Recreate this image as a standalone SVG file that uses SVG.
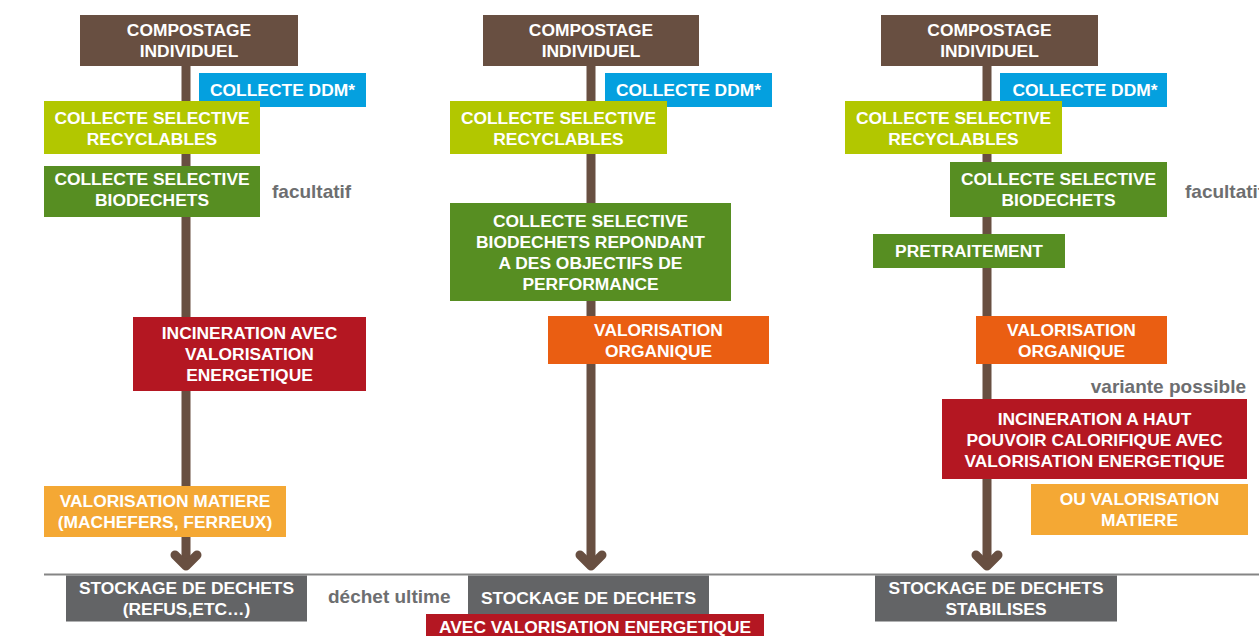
<svg xmlns="http://www.w3.org/2000/svg" width="1259" height="636" viewBox="0 0 1259 636">
<style>
.t{font-family:"Liberation Sans",Arial,sans-serif;font-weight:bold;font-size:17.4px;fill:#ffffff;text-anchor:middle}
.g{font-family:"Liberation Sans",Arial,sans-serif;font-weight:bold;font-size:19px;fill:#6d6e70}
.trunk{stroke:#684f41;stroke-width:9;fill:none}
.head{stroke:#684f41;stroke-width:9;fill:none;stroke-linecap:round;stroke-linejoin:round}
.brown{fill:#684f41}.blue{fill:#04a0df}.lime{fill:#b2c700}.green{fill:#578e22}
.red{fill:#b41722}.orange{fill:#ea5e12}.lorange{fill:#f4a834}.grey{fill:#636466}
</style>
<rect width="1259" height="636" fill="#ffffff"/>
<g id="connectors">
<line class="trunk" x1="186" y1="60" x2="186" y2="564"/>
<polyline class="head" points="175,555 186,566 197,555"/>
<line class="trunk" x1="591" y1="60" x2="591" y2="564"/>
<polyline class="head" points="580,555 591,566 602,555"/>
<line class="trunk" x1="987" y1="60" x2="987" y2="564"/>
<polyline class="head" points="976,555 987,566 998,555"/>
<line x1="44" y1="574.5" x2="1259" y2="574.5" stroke="#858585" stroke-width="2"/>
</g>
<!-- Column 1 -->
<g id="c1-compostage"><rect class="brown" x="80" y="15" width="218" height="51"/><text class="t" x="189" y="36.3">COMPOSTAGE</text><text class="t" x="189" y="57.3">INDIVIDUEL</text></g>
<g id="c1-ddm"><rect class="blue" x="199" y="73" width="167" height="34"/><text class="t" x="282.5" y="96.3">COLLECTE DDM*</text></g>
<g id="c1-recyclables"><rect class="lime" x="44" y="101" width="216" height="53"/><text class="t" x="152" y="124">COLLECTE SELECTIVE</text><text class="t" x="152" y="145">RECYCLABLES</text></g>
<g id="c1-biodechets"><rect class="green" x="44" y="166" width="216" height="51"/><text class="t" x="152" y="185">COLLECTE SELECTIVE</text><text class="t" x="152" y="206">BIODECHETS</text></g>
<g id="c1-facultatif"><text class="g" x="272" y="198">facultatif</text></g>
<g id="c1-incineration"><rect class="red" x="133" y="317" width="233" height="74"/><text class="t" x="249.5" y="339.3">INCINERATION AVEC</text><text class="t" x="249.5" y="360.3">VALORISATION</text><text class="t" x="249.5" y="381.3">ENERGETIQUE</text></g>
<g id="c1-valmatiere"><rect class="lorange" x="44" y="486" width="242" height="51"/><text class="t" x="165" y="507">VALORISATION MATIERE</text><text class="t" x="165" y="528">(MACHEFERS, FERREUX)</text></g>
<g id="c1-stockage"><rect class="grey" x="66" y="575.5" width="241" height="46"/><text class="t" x="186.5" y="593.5">STOCKAGE DE DECHETS</text><text class="t" x="186.5" y="614.5">(REFUS,ETC…)</text></g>
<g id="c1-ultime"><text class="g" x="328" y="603">déchet ultime</text></g>
<!-- Column 2 -->
<g id="c2-compostage"><rect class="brown" x="483" y="15" width="216" height="51"/><text class="t" x="591" y="36.3">COMPOSTAGE</text><text class="t" x="591" y="57.3">INDIVIDUEL</text></g>
<g id="c2-ddm"><rect class="blue" x="605" y="73" width="167" height="34"/><text class="t" x="688.5" y="96.3">COLLECTE DDM*</text></g>
<g id="c2-recyclables"><rect class="lime" x="450" y="101" width="217" height="53"/><text class="t" x="558.5" y="124">COLLECTE SELECTIVE</text><text class="t" x="558.5" y="145">RECYCLABLES</text></g>
<g id="c2-biodechets"><rect class="green" x="450" y="203" width="281" height="98"/><text class="t" x="590.5" y="226.8">COLLECTE SELECTIVE</text><text class="t" x="590.5" y="247.8">BIODECHETS REPONDANT</text><text class="t" x="590.5" y="268.8">A DES OBJECTIFS DE</text><text class="t" x="590.5" y="289.8">PERFORMANCE</text></g>
<g id="c2-valorganique"><rect class="orange" x="548" y="316" width="221" height="48"/><text class="t" x="658.5" y="335.8">VALORISATION</text><text class="t" x="658.5" y="356.8">ORGANIQUE</text></g>
<g id="c2-stockage"><rect class="grey" x="468" y="575.5" width="241" height="39"/><text class="t" x="588.5" y="604">STOCKAGE DE DECHETS</text></g>
<g id="c2-energetique"><rect class="red" x="426" y="614" width="338" height="30"/><text class="t" x="595" y="633">AVEC VALORISATION ENERGETIQUE</text></g>
<!-- Column 3 -->
<g id="c3-compostage"><rect class="brown" x="881" y="15" width="217" height="51"/><text class="t" x="989.5" y="36.3">COMPOSTAGE</text><text class="t" x="989.5" y="57.3">INDIVIDUEL</text></g>
<g id="c3-ddm"><rect class="blue" x="1000" y="73" width="167" height="34"/><text class="t" x="1085" y="96.3">COLLECTE DDM*</text></g>
<g id="c3-recyclables"><rect class="lime" x="845" y="101" width="217" height="53"/><text class="t" x="953.5" y="124">COLLECTE SELECTIVE</text><text class="t" x="953.5" y="145">RECYCLABLES</text></g>
<g id="c3-biodechets"><rect class="green" x="950" y="162" width="217" height="55"/><text class="t" x="1058.5" y="185">COLLECTE SELECTIVE</text><text class="t" x="1058.5" y="206">BIODECHETS</text></g>
<g id="c3-facultatif"><text class="g" x="1185" y="198">facultatif</text></g>
<g id="c3-pretraitement"><rect class="green" x="873" y="234" width="192" height="34"/><text class="t" x="969" y="257.3">PRETRAITEMENT</text></g>
<g id="c3-valorganique"><rect class="orange" x="976" y="316" width="191" height="48"/><text class="t" x="1071.5" y="335.8">VALORISATION</text><text class="t" x="1071.5" y="356.8">ORGANIQUE</text></g>
<g id="c3-variante"><text class="g" x="1246" y="393" text-anchor="end">variante possible</text></g>
<g id="c3-incineration"><rect class="red" x="942" y="399" width="305" height="80"/><text class="t" x="1094.5" y="425">INCINERATION A HAUT</text><text class="t" x="1094.5" y="446">POUVOIR CALORIFIQUE AVEC</text><text class="t" x="1094.5" y="467">VALORISATION ENERGETIQUE</text></g>
<g id="c3-valmatiere"><rect class="lorange" x="1031" y="484" width="217" height="51"/><text class="t" x="1139.5" y="505">OU VALORISATION</text><text class="t" x="1139.5" y="526">MATIERE</text></g>
<g id="c3-stockage"><rect class="grey" x="875" y="575.5" width="242" height="46"/><text class="t" x="996" y="593.5">STOCKAGE DE DECHETS</text><text class="t" x="996" y="614.5">STABILISES</text></g>
</svg>
